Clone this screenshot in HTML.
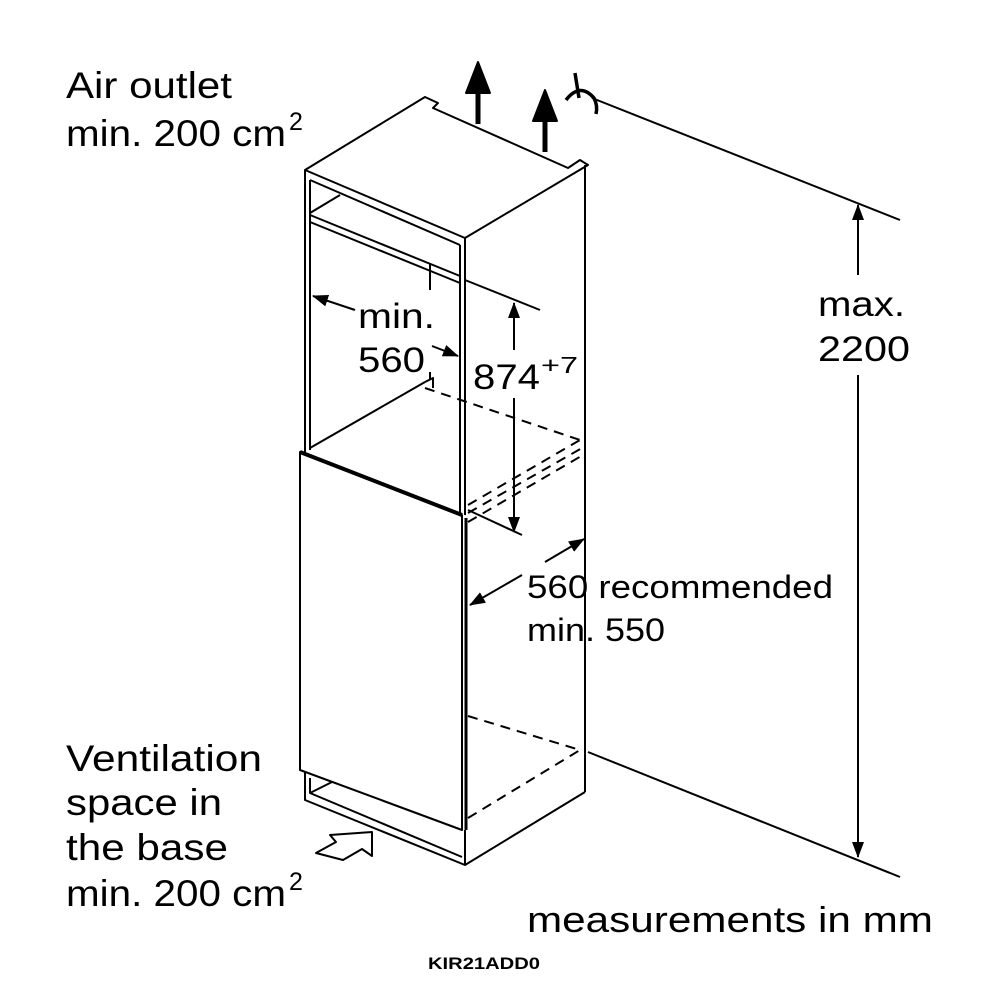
<!DOCTYPE html>
<html><head><style>
html,body{margin:0;padding:0;background:#fff}
svg{display:block}
text{font-family:"Liberation Sans",sans-serif;fill:#000}
</style></head><body>
<svg width="1000" height="1000" viewBox="0 0 1000 1000" xmlns="http://www.w3.org/2000/svg">
<defs>
<marker id="a" markerWidth="10" markerHeight="10" refX="9" refY="5" orient="auto" markerUnits="userSpaceOnUse" viewBox="0 0 10 10"><path d="M0,1 L10,5 L0,9 Z" fill="#000"/></marker>
<marker id="c" markerWidth="16" markerHeight="12" refX="15" refY="6" orient="auto" markerUnits="userSpaceOnUse" viewBox="0 0 16 12"><path d="M0,0 L16,6 L0,12 Z" fill="#000"/></marker>
</defs>
<g stroke="#000" stroke-width="2" fill="none" stroke-linejoin="round">
<path d="M305,170 L425,97 L438,103 L433,108 L568,168 L580,160 L588,165 L465,238 Z" fill="#fff"/>
<line x1="465" y1="238" x2="465" y2="515"/>
<line x1="585" y1="165" x2="585" y2="792"/>
<line x1="305" y1="170" x2="305" y2="455"/>
<line x1="310" y1="180" x2="310" y2="450"/>
<line x1="310" y1="180" x2="460" y2="245"/>
<line x1="310" y1="215" x2="460" y2="276"/>
<line x1="310" y1="222" x2="460" y2="283"/>
<line x1="310" y1="213" x2="340" y2="195"/>
<line x1="460" y1="245" x2="460" y2="515"/>
<line x1="310" y1="448" x2="425" y2="382"/>
<path d="M425,382 L433,378 L433,388"/>
<line x1="430" y1="263" x2="430" y2="290"/>
<line x1="430" y1="372" x2="430" y2="380"/>
<path d="M300,452 L300,770 L462,830 L462,515 Z" fill="#fff"/>
<line x1="300" y1="452" x2="462" y2="515" stroke-width="4"/>
<line x1="466" y1="518" x2="466" y2="830" stroke-width="3"/>
<path d="M305,772 L305,800 L465,865 L585,792"/>
<path d="M310,778 L310,793 L462,857"/>
<line x1="310" y1="793" x2="332" y2="782"/>
<line x1="465" y1="830" x2="465" y2="865"/>
<g stroke-dasharray="10,7">
<line x1="425" y1="388" x2="580" y2="440"/>
<line x1="468" y1="505" x2="580" y2="440"/>
<line x1="468" y1="513" x2="582" y2="448"/>
<line x1="468" y1="522" x2="583" y2="455"/>
<line x1="468" y1="716" x2="580" y2="750"/>
<line x1="468" y1="818" x2="580" y2="750"/>
</g>
<line x1="465" y1="280" x2="540" y2="310"/>
<line x1="468" y1="510" x2="522" y2="535"/>
<line x1="514" y1="350" x2="514" y2="303" marker-end="url(#c)"/>
<line x1="514" y1="398" x2="514" y2="532" marker-end="url(#c)"/>
<line x1="355" y1="310" x2="313" y2="296" marker-end="url(#c)"/>
<line x1="432" y1="346" x2="458" y2="356" marker-end="url(#c)"/>
<line x1="592" y1="98" x2="900" y2="220"/>
<line x1="588" y1="752" x2="900" y2="877"/>
<line x1="858" y1="275" x2="858" y2="205" marker-end="url(#c)"/>
<line x1="858" y1="375" x2="858" y2="857" marker-end="url(#c)"/>
<line x1="545" y1="562" x2="584" y2="539" marker-end="url(#c)"/>
<line x1="522" y1="575" x2="470" y2="605" marker-end="url(#c)"/>
<line x1="478" y1="124" x2="478" y2="90" stroke-width="5"/>
<path d="M466,93 L478,62 L490,93 Z" fill="#000"/>
<line x1="545" y1="152" x2="545" y2="118" stroke-width="5"/>
<path d="M533,121 L545,90 L557,121 Z" fill="#000"/>
<path d="M566,100 Q580,82 594,98 Q598,106 596,114 M575,73 L579,98" stroke-width="3.5"/>
<path d="M316,853 L336,842 L330,835 L372,832 L372,856 L362,849 L343,860 Z" fill="#fff"/>
</g>
<text x="66" y="98" font-size="37" textLength="166" lengthAdjust="spacingAndGlyphs">Air outlet</text>
<text x="66" y="146" font-size="37" textLength="220" lengthAdjust="spacingAndGlyphs">min. 200 cm</text>
<text x="289" y="130" font-size="25">2</text>
<text x="66" y="771" font-size="37" textLength="196" lengthAdjust="spacingAndGlyphs">Ventilation</text>
<text x="66" y="815" font-size="37" textLength="156" lengthAdjust="spacingAndGlyphs">space in</text>
<text x="66" y="860" font-size="37" textLength="162" lengthAdjust="spacingAndGlyphs">the base</text>
<text x="66" y="906" font-size="37" textLength="220" lengthAdjust="spacingAndGlyphs">min. 200 cm</text>
<text x="289" y="890" font-size="25">2</text>
<text x="358" y="328" font-size="35" textLength="77" lengthAdjust="spacingAndGlyphs">min.</text>
<text x="358" y="372" font-size="35" textLength="67" lengthAdjust="spacingAndGlyphs">560</text>
<text x="473" y="389" font-size="35" textLength="67" lengthAdjust="spacingAndGlyphs">874</text>
<text x="541" y="373" font-size="23" textLength="37" lengthAdjust="spacingAndGlyphs">+7</text>
<text x="818" y="316" font-size="35" textLength="87" lengthAdjust="spacingAndGlyphs">max.</text>
<text x="818" y="361" font-size="35" textLength="92" lengthAdjust="spacingAndGlyphs">2200</text>
<text x="527" y="598" font-size="32" textLength="306" lengthAdjust="spacingAndGlyphs">560 recommended</text>
<text x="527" y="641" font-size="32" textLength="138" lengthAdjust="spacingAndGlyphs">min. 550</text>
<text x="527" y="932" font-size="36" textLength="406" lengthAdjust="spacingAndGlyphs">measurements in mm</text>
<text x="428" y="969" font-size="17" font-weight="bold" textLength="112" lengthAdjust="spacingAndGlyphs">KIR21ADD0</text>
</svg>
</body></html>
